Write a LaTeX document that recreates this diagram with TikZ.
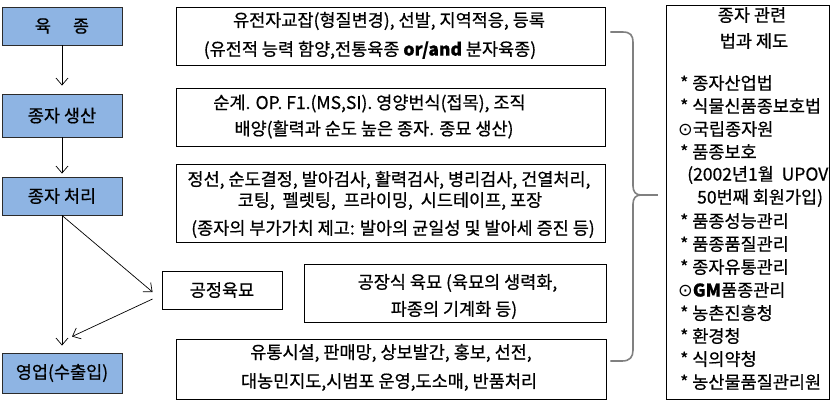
\documentclass[tikz,border=0pt]{standalone}
\usepackage{fontspec}
\setmainfont{Noto Sans CJK KR}[FakeBold=0.6]
\newfontfamily\symfont{DejaVu Sans}
\usetikzlibrary{arrows.meta,calc}
\definecolor{boxblue}{HTML}{8EB4E3}
\definecolor{boxedge}{HTML}{2B2B2B}
\definecolor{bracegray}{HTML}{808080}
\begin{document}
\begin{tikzpicture}[x=1pt,y=-1pt,
  font=\fontsize{17.5}{20}\selectfont,
  bluebox/.style={draw=boxedge, fill=boxblue, line width=0.9pt, minimum width=120pt, inner sep=0pt},
  txtbox/.style={draw=black, line width=0.9pt, inner sep=0pt},
  txt/.style={inner sep=0pt, anchor=center},
  item/.style={inner sep=0pt, anchor=west},
  arr/.style={-{Straight Barb[length=7pt,width=12pt]}, line width=0.7pt},
  brace/.style={draw=bracegray, line width=1.6pt}]
\useasboundingbox (0,0) rectangle (840,403);
\fill[white] (0,0) rectangle (840,403);
% left flow boxes
\node[bluebox, minimum height=38pt] (b1) at (62,26) {육\hspace{22pt}종};
\node[bluebox, minimum height=43pt] (b2) at (62,115.5) {종자 생산};
\node[bluebox, minimum height=38pt] (b3) at (62,196) {종자 처리};
\node[bluebox, minimum height=40pt] (b4) at (62,373) {영업(수출입)};
\node[txtbox, minimum width=120pt, minimum height=38pt] (g) at (222,290) {공정육묘};
% middle boxes
\node[txtbox, minimum width=429pt, minimum height=58pt] (m1) at (390.5,36) {};
\node[txtbox, minimum width=429pt, minimum height=58pt] (m2) at (390.5,117) {};
\node[txtbox, minimum width=429pt, minimum height=78pt] (m3) at (390.5,203) {};
\node[txtbox, minimum width=302pt, minimum height=58pt] (m4) at (455,293) {};
\node[txtbox, minimum width=430pt, minimum height=60pt] (m5) at (391,369) {};
\node[txt] (m1a) at (389,21) {유전자교잡(형질변경), 선발, 지역적응, 등록};
\node[txt] (m1b) at (370,50) {(유전적 능력 함양,전통육종 \textbf{or/and} 분자육종)};
\node[txt] (m2a) at (369.5,103.5) {순계. OP. F1.(MS,SI). 영양번식(접목), 조직};
\node[txt] (m2b) at (374,129.5) {배양(활력과 순도 높은 종자. 종묘 생산)};
\node[txt] (m3a) at (389,180) {정선, 순도결정, 발아검사, 활력검사, 병리검사, 건열처리,};
\node[txt] (m3b) at (390,201) {코팅,\ \ 펠렛팅,\ \ 프라이밍,\ \ 시드테이프, 포장};
\node[txt] (m3c) at (393,229) {(종자의 부가가치 제고: 발아의 균일성 및 발아세 증진 등)};
\node[txt] (m4a) at (457.5,283) {공장식 육묘 (육묘의 생력화,};
\node[txt] (m4b) at (454,310) {파종의 기계화 등)};
\node[txt] (m5a) at (391,353) {유통시설, 판매망, 상보발간, 홍보, 선전,};
\node[txt] (m5b) at (389,382) {대농민지도,시범포 운영,도소매, 반품처리};
% right box
\node[txtbox, minimum width=163pt, minimum height=394pt] (r) at (747.5,202) {};
\node[txt] (rt1) at (752,15) {종자 관련};
\node[txt] (rt2) at (754,41) {법과 제도};
\node[item] (r1) at (680,83) {* 종자산업법};
\node[item] (r2) at (680,106) {* 식물신품종보호법};
\node[item] (r3) at (678,129) {{\symfont ⊙}국립종자원};
\node[item] (r4) at (680,152) {* 품종보호};
\node[item] (r5) at (687,175) {(2002년1월\ \ UPOV};
\node[item] (r6) at (697,198) {50번째 회원가입)};
\node[item] (r7) at (680,221) {* 품종성능관리};
\node[item] (r8) at (680,244) {* 품종품질관리};
\node[item] (r9) at (680,267) {* 종자유통관리};
\node[item] (r10) at (678,290) {{\symfont ⊙}\textbf{GM}품종관리};
\node[item] (r11) at (680,313) {* 농촌진흥청};
\node[item] (r12) at (680,336) {* 환경청};
\node[item] (r13) at (680,359) {* 식의약청};
\node[item] (r14) at (680,382) {* 농산물품질관리원};
% arrows
\draw[arr, shorten >=8pt] (b1.south) -- (b2.north);
\draw[arr, shorten >=3pt] (b2.south) -- (b3.north);
\draw[arr, shorten >=7pt] (b3.south) -- (b4.north);
\coordinate (ga) at ($(g.west)+(-9,2)$);
\coordinate (gb) at ($(g.west)+(-9,9)$);
\coordinate (bt) at ($(b4.north)+(10,-16)$);
\draw[arr] (b3.south) -- (ga);
\draw[arr] (gb) -- (bt);
% brace
\coordinate (btop) at ($(m1.east)+(5,-4)$);
\coordinate (bbot) at ($(m5.east)+(4,-8)$);
\coordinate (btip) at ($(r.west)+(-8,-7)$);
\draw[brace] (btop) -- ++(12,0) .. controls +(8,0) and +(0,-8) .. (633,43) -- (633,186)
  .. controls (633,192) and (636,195) .. (641,195)
  .. controls (636,195) and (633,198) .. (633,204) -- (633,350)
  .. controls (633,357) and (630,361) .. (622,361) -- (bbot);
\draw[draw=bracegray, line width=1.2pt] (641,195) -- (btip);
\end{tikzpicture}
\end{document}
